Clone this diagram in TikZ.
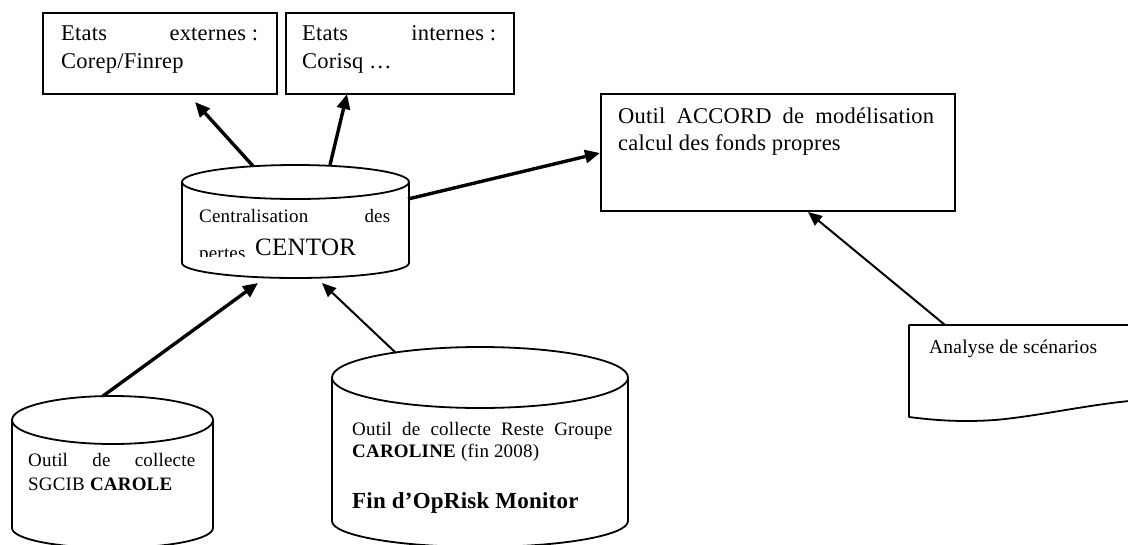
\documentclass[tikz,border=0pt]{standalone}
\usepackage{fontspec}
\usetikzlibrary{arrows.meta}
\newfontfamily\tf{Liberation Serif}[LetterSpace=1]
\newcommand\FontBox{\tf\fontsize{22.5pt}{26pt}\selectfont}
\newcommand\FontSmall{\tf\fontsize{19pt}{22pt}\selectfont}
\newcommand\FontAna{\tf\fontsize{19.5pt}{23pt}\selectfont}
\newcommand\FontBig{\tf\fontsize{25pt}{29pt}\selectfont}
\newcommand\FontFin{\tf\fontsize{23pt}{27pt}\selectfont\bfseries}
\tikzset{
  box/.style={draw, line width=1.7pt, inner sep=0pt, anchor=north west},
  shp/.style={draw, line width=1.8pt, line join=round},
  txt/.style={inner sep=0pt, anchor=base west},
  bigarrow/.style={line width=3.4pt, -{Triangle[length=15pt,width=13pt]}},
  thinarrow/.style={line width=2pt, -{Triangle[length=14pt,width=12pt]}},
}
\begin{document}
\begin{tikzpicture}[x=1pt,y=-1pt]
\useasboundingbox (0,0) rectangle (1128,544);
\clip (0,0) rectangle (1128,544);
\fill[white] (0,0) rectangle (1128,544);

% rectangles
\node[box, minimum width=234pt, minimum height=81pt] (ext) at (42,12) {};
\node[box, minimum width=228pt, minimum height=81pt] (int) at (285,12) {};
\node[box, minimum width=354pt, minimum height=117pt] (accord) at (600,93) {};

\node[txt, font=\FontBox] (ext1) at (61,40) {\makebox[197pt][l]{Etats\hfill externes :}};
\node[txt, font=\FontBox] (ext2) at (61,68) {Corep/Finrep};
\node[txt, font=\FontBox] (int1) at (302,40) {\makebox[194pt][l]{Etats\hfill internes :}};
\node[txt, font=\FontBox] (int2) at (302,68) {Corisq …};
\node[txt, font=\FontBox] (acc1) at (618,123) {\makebox[316pt][l]{Outil\hfill ACCORD\hfill de\hfill modélisation}};
\node[txt, font=\FontBox] (acc2) at (618,150) {calcul des fonds propres};

% CENTOR cylinder
\draw[shp] (295.5,182) ellipse [x radius=113.5pt, y radius=17pt];
\draw[shp] (182,182) -- (182,263) arc[start angle=180, end angle=360, x radius=113.5pt, y radius=15pt] -- (409,182);
\node[txt, font=\FontSmall] (cen1) at (199,222) {\makebox[191pt][l]{Centralisation\hfill des}};
\begin{scope}
  \clip (182,200) rectangle (409,256);
  \node[txt, font=\FontSmall] (cen2) at (199,259) {pertes};
  \node[txt, font=\FontBig] (cen3) at (255,255) {CENTOR};
\end{scope}

% CAROLE cylinder
\draw[shp] (112.5,420) ellipse [x radius=100.5pt, y radius=24pt];
\draw[shp] (12,420) -- (12,528) arc[start angle=180, end angle=360, x radius=100.5pt, y radius=20pt] -- (213,420);
\node[txt, font=\FontSmall] (car1) at (28,466) {\makebox[167pt][l]{Outil\hfill de\hfill collecte}};
\node[txt, font=\FontSmall] (car2) at (28,490) {SGCIB \textbf{CAROLE}};

% CAROLINE cylinder
\draw[shp] (480,377.5) ellipse [x radius=148pt, y radius=30.5pt];
\draw[shp] (332,377.5) -- (332,521) arc[start angle=180, end angle=360, x radius=148pt, y radius=26pt] -- (628,377.5);
\node[txt, font=\FontSmall] (cl1) at (352,435) {\makebox[260pt][l]{Outil\hfill de\hfill collecte\hfill Reste\hfill Groupe}};
\node[txt, font=\FontSmall] (cl2) at (352,457) {\textbf{CAROLINE} (fin 2008)};
\node[txt, font=\FontFin] (cl3) at (352,508) {Fin d’OpRisk Monitor};

% Analyse document
\draw[shp] (1140,325) -- (909,325) -- (909,417)
  .. controls (940,421) and (965,422) .. (995,420)
  .. controls (1040,416) and (1090,404) .. (1140,400);
\node[txt, font=\FontAna] (ana) at (929,353) {Analyse de scénarios};

% connector end points
\coordinate (c-tl) at (253,166);
\coordinate (c-tr) at (330,165);
\coordinate (c-r) at (408,199);
\coordinate (c-bl) at (258,283);
\coordinate (c-br) at (322,283);
\coordinate (ext-in) at (195,102);
\coordinate (int-in) at (347,94);
\coordinate (acc-l) at (600,153);
\coordinate (acc-b) at (808,212);
\coordinate (carole-top) at (103,396);
\coordinate (caroline-top) at (396,353);
\coordinate (ana-top) at (945,325);

\draw[bigarrow] (c-tl) -- (ext-in);
\draw[bigarrow] (c-tr) -- (int-in);
\draw[bigarrow] (c-r) -- (acc-l);
\draw[bigarrow] (carole-top) -- (c-bl);
\draw[thinarrow] (caroline-top) -- (c-br);
\draw[thinarrow] (ana-top) -- (acc-b);
\end{tikzpicture}
\end{document}
